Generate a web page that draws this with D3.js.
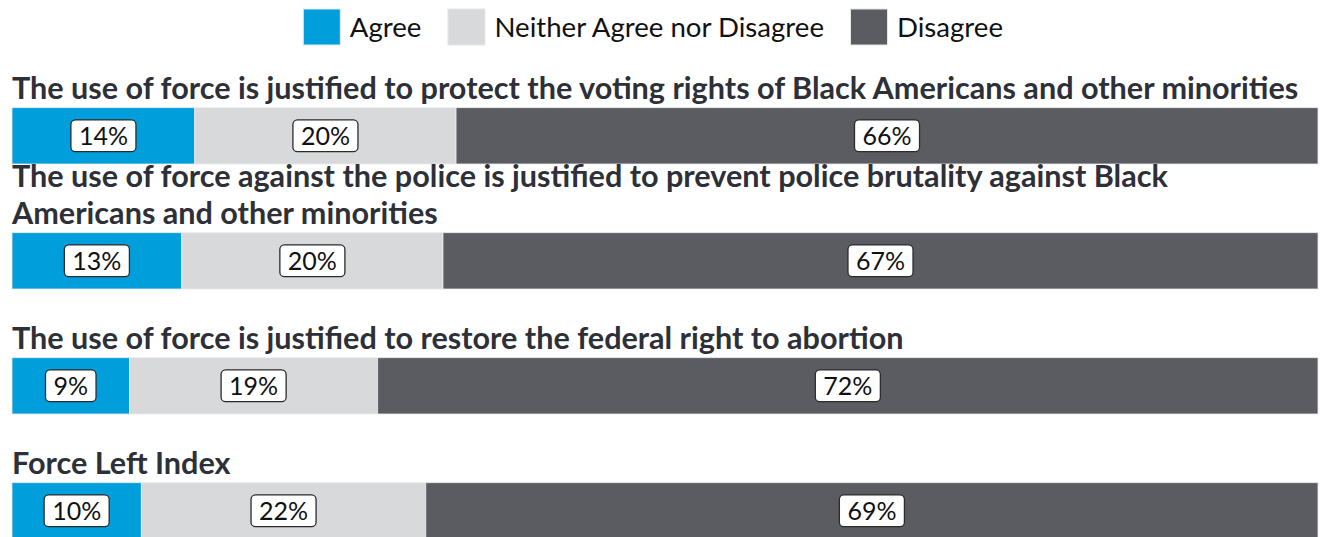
<!DOCTYPE html>
<html>
<head>
<meta charset="utf-8">
<script src="https://cdn.jsdelivr.net/npm/d3@7"></script>
<style>
  html, body { margin: 0; padding: 0; background: #fff; }
  svg { display: block; }
</style>
</head>
<body>
<svg id="chart" width="1320" height="537"></svg>
<script>
// Survey statements (one stacked bar each)
const questions = [
  "The use of force is justified to protect the voting rights of Black Americans and other minorities",
  "The use of force against the police is justified to prevent police brutality against Black Americans and other minorities",
  "The use of force is justified to restore the federal right to abortion",
  "Force Left Index"
];
// Response categories, in stacking order
const responses = ["Agree", "Neither Agree nor Disagree", "Disagree"];
// Percentages per statement
const agree    = [14, 13, 9, 10];
const neither  = [20, 20, 19, 22];
const disagree = [66, 67, 72, 69];

const colors = ["#009fdb", "#d8d9db", "#5b5c61"];

const left = 12, right = 1318;
const wrapWidth = 1295;
const svg = d3.select("#chart");

const rows = questions.map((q, i) => ({
  question: q,
  values: [agree[i], neither[i], disagree[i]]
}));

// Vertical placement of each bar
const y = d3.scaleBand()
  .domain(questions)
  .range([107.7, 539])
  .paddingInner(0.5496)
  .paddingOuter(0);

const color = d3.scaleOrdinal().domain(responses).range(colors);

// ---- Legend ----
const legend = svg.append("g").attr("class", "legend");
let lx = 303.3;
responses.forEach(r => {
  legend.append("rect")
    .attr("x", lx).attr("y", 9)
    .attr("width", 37).attr("height", 36)
    .attr("fill", color(r))
    .attr("stroke", "#e6e6e6").attr("stroke-width", 1);
  const t = legend.append("text")
    .attr("x", lx + 46.5).attr("y", 37.3)
    .attr("font-family", "Lato, sans-serif")
    .attr("font-size", 27.6)
    .attr("fill", "#111")
    .text(r);
  lx += 46.5 + t.node().getComputedTextLength() + 26.5;
});

// ---- Rows ----
const titleSize = 30.6;
const lineH = 36.6;

rows.forEach(row => {
  const top = y(row.question);
  const bh = y.bandwidth();
  const total = d3.sum(row.values);
  const x = d3.scaleLinear().domain([0, total]).range([left, right]);

  // Title, wrapped and anchored just above the bar
  const g = svg.append("g");
  const title = g.append("text")
    .attr("font-family", "Lato, sans-serif")
    .attr("font-weight", 700)
    .attr("font-size", titleSize)
    .attr("fill", "#2e3038");
  const words = row.question.split(" ");
  const lines = [];
  let cur = [];
  const probe = title.append("tspan");
  words.forEach(w => {
    const test = cur.concat(w).join(" ");
    probe.text(test);
    if (probe.node().getComputedTextLength() > wrapWidth && cur.length) {
      lines.push(cur.join(" "));
      cur = [w];
    } else {
      cur.push(w);
    }
  });
  lines.push(cur.join(" "));
  probe.remove();
  const baseLast = top - 9;
  lines.forEach((ln, k) => {
    title.append("tspan")
      .attr("x", left)
      .attr("y", baseLast - (lines.length - 1 - k) * lineH)
      .text(ln);
  });

  // Stacked segments
  const stacked = d3.stack().keys([0, 1, 2])([row.values])
    .map((s, k) => ({ key: responses[k], v0: s[0][0], v1: s[0][1], value: row.values[k] }));

  g.selectAll("rect.seg")
    .data(stacked)
    .join("rect")
    .attr("class", "seg")
    .attr("x", d => x(d.v0))
    .attr("y", top)
    .attr("width", d => x(d.v1) - x(d.v0))
    .attr("height", bh)
    .attr("fill", d => color(d.key))
    .attr("stroke", "#ebebeb")
    .attr("stroke-width", 0.8);

  // Value labels in rounded white boxes
  const lab = g.selectAll("g.lab")
    .data(stacked)
    .join("g")
    .attr("class", "lab")
    .attr("transform", d => `translate(${(x(d.v0) + x(d.v1)) / 2},${top + bh / 2})`);
  lab.append("rect");
  const txt = lab.append("text")
    .attr("text-anchor", "middle")
    .attr("y", 8.8)
    .attr("font-family", "Lato, sans-serif")
    .attr("font-size", 25)
    .attr("fill", "#111")
    .text(d => d.value + "%");
  txt.each(function () {
    const w = this.getComputedTextLength() + 16;
    d3.select(this.parentNode).select("rect")
      .attr("x", -w / 2).attr("y", -15.9)
      .attr("width", w).attr("height", 31.7)
      .attr("rx", 4.5)
      .attr("fill", "#fff")
      .attr("stroke", "#2b2b2b")
      .attr("stroke-width", 1.3);
  });
});
</script>
</body>
</html>
